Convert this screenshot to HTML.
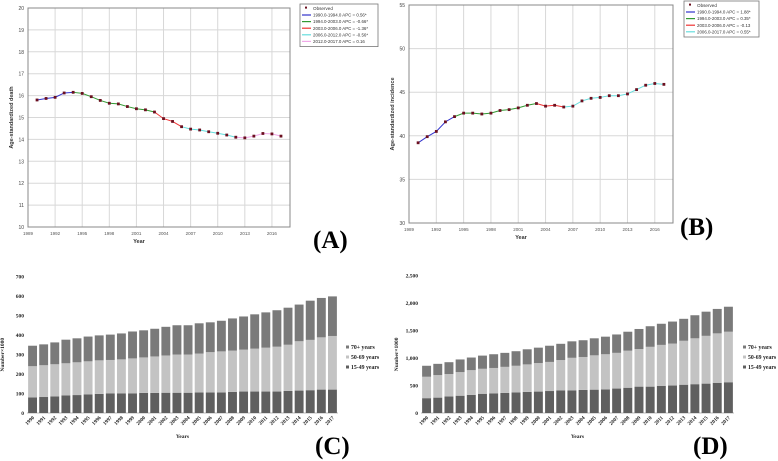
<!DOCTYPE html>
<html><head><meta charset="utf-8">
<style>
html,body{margin:0;padding:0;background:#fff;}
svg{display:block;font-family:"Liberation Sans",sans-serif;}
.serif{font-family:"Liberation Serif",serif;}
</style></head>
<body>
<svg id="fig" width="778" height="461" viewBox="0 0 778 461" xmlns="http://www.w3.org/2000/svg"></svg>
<script>
// ---- Panel A data ----
const yearsA = [1990,1991,1992,1993,1994,1995,1996,1997,1998,1999,2000,2001,2002,2003,2004,2005,2006,2007,2008,2009,2010,2011,2012,2013,2014,2015,2016,2017];
const deathA = [15.8,15.87,15.92,16.12,16.15,16.1,15.95,15.78,15.65,15.62,15.5,15.4,15.35,15.25,14.95,14.82,14.58,14.47,14.43,14.35,14.28,14.2,14.1,14.07,14.15,14.27,14.25,14.15];
const segA = [[1990,1994,'#3333cc'],[1994,2003,'#339933'],[2003,2006,'#ee3333'],[2006,2012,'#66dddd'],[2012,2017,'#f0a8e8']];
const legendA = ['1990.0-1994.0 APC = 0.56*','1994.0-2003.0 APC = -0.66*','2003.0-2006.0 APC = -1.36*','2006.0-2012.0 APC = -0.56*','2012.0-2017.0 APC = 0.16'];
const yTicksA = [10,11,12,13,14,15,16,17,18,19,20];
const xTicksLine = [1989,1992,1995,1998,2001,2004,2007,2010,2013,2016];
// ---- Panel B data ----
const incB = [39.2,39.9,40.5,41.6,42.2,42.6,42.6,42.5,42.6,42.9,43.0,43.2,43.5,43.7,43.4,43.5,43.3,43.4,44.0,44.3,44.4,44.6,44.6,44.8,45.3,45.8,46.0,45.9];
const segB = [[1990,1994,'#3333cc'],[1994,2003,'#339933'],[2003,2006,'#ee3333'],[2006,2017,'#66dddd']];
const legendB = ['1990.0-1994.0 APC = 1.88*','1994.0-2003.0 APC = 0.35*','2003.0-2006.0 APC = -0.13','2006.0-2017.0 APC = 0.55*'];
const yTicksB = [30,35,40,45,50,55];
// ---- Panel C data ----
const barYears = [1990,1991,1992,1993,1994,1995,1996,1997,1998,1999,2000,2001,2002,2003,2004,2005,2006,2007,2008,2009,2010,2011,2012,2013,2014,2015,2016,2017];
const c1549 = [80,82,85,90,92,95,98,100,100,100,103,103,104,104,104,105,105,105,108,110,110,110,110,113,115,117,120,120];
const c5069 = [160,163,165,165,168,170,172,172,175,180,182,187,191,196,196,200,207,211,212,215,220,225,230,237,253,258,268,275];
const c70 = [105,107,112,121,123,127,128,130,133,138,139,142,147,150,150,155,153,157,165,170,176,181,187,190,188,201,202,203];
const yTicksC = [0,100,200,300,400,500,600,700];
// ---- Panel D data ----
const d1549 = [270,280,300,315,330,350,355,365,375,385,390,400,410,410,420,425,430,445,460,480,480,495,500,515,525,535,550,560];
const d5069 = [390,410,410,430,450,455,465,475,485,500,520,530,555,595,600,625,640,650,675,685,725,745,765,800,835,870,900,920];
const d70 = [200,205,215,230,230,240,250,255,265,275,280,295,295,300,305,310,320,335,345,365,375,385,400,400,420,440,445,455];
const yTicksD = [0,500,1000,1500,2000,2500];
const ageLabels = ['70+ years','50-69 years','15-49 years'];

const NS='http://www.w3.org/2000/svg';
const svg=document.getElementById('fig');
function el(tag,attrs,parent,text){const e=document.createElementNS(NS,tag);for(const k in attrs)e.setAttribute(k,attrs[k]);if(text!==undefined)e.textContent=text;(parent||svg).appendChild(e);return e;}

function linePanel(p,name,years,vals,segs,legTexts,yTicks,yTitle){
  const g=el('g',{});
  
  
  const xs=v=>p.x0+(v-1989)/(2018-1989)*(p.x1-p.x0);
  const ys=v=>p.y1-(v-p.ymin)/(p.ymax-p.ymin)*(p.y1-p.y0);
  yTicks.forEach(t=>{
    const l=el('line',{x1:p.x0,x2:p.x1,y1:ys(t),y2:ys(t),stroke:'#d8d8d8','stroke-width':1},g);
    
    const tx=el('text',{x:p.x0-4,y:ys(t)+2,'font-size':5,'text-anchor':'end',fill:'#444'},g,String(t));
    
  });
  xTicksLine.forEach(t=>{
    if(t>1989){const l=el('line',{x1:xs(t),x2:xs(t),y1:p.y0,y2:p.y1,stroke:'#d8d8d8','stroke-width':1},g);
    }
    const tx=el('text',{x:xs(t),y:p.y1+8,'font-size':4.5,'text-anchor':'middle',fill:'#555'},g,String(t));
    
  });
  const fr=el('rect',{x:p.x0,y:p.y0,width:p.x1-p.x0,height:p.y1-p.y0,fill:'none',stroke:'#888','stroke-width':1},g);
  
  segs.forEach(s=>{
    const pts=[];years.forEach((y,i)=>{if(y>=s[0]&&y<=s[1])pts.push(xs(y)+','+ys(vals[i]));});
    const pl=el('polyline',{points:pts.join(' '),fill:'none',stroke:s[2],'stroke-width':1},g);
    
  });
  years.forEach((y,i)=>{
    const r=el('rect',{x:xs(y)-1.4,y:ys(vals[i])-1.4,width:2.8,height:2.8,fill:'#6b0f1f'},g);
    
  });
  const yt=el('text',{x:0,y:0,'font-size':5.5,'font-weight':'bold','text-anchor':'middle',fill:'#333',transform:`translate(${p.x0-15},${(p.y0+p.y1)/2}) rotate(-90)`},g,yTitle);
  
  const xt=el('text',{x:(p.x0+p.x1)/2-20,y:p.y1+16,'font-size':5.5,'font-weight':'bold','text-anchor':'middle',fill:'#333'},g,'Year');
  
  // legend
  const lg=el('g',{},g);
  
  const n=legTexts.length+1;
  el('rect',{x:p.lx,y:p.ly,width:p.lw,height:n*6.6+3,fill:'#fff',stroke:'#777','stroke-width':0.8},lg);
  el('rect',{x:p.lx+5,y:p.ly+2.6,width:2,height:2,fill:'#6b0f1f'},lg);
  el('text',{x:p.lx+13,y:p.ly+6,'font-size':4.6,fill:'#333'},lg,'Observed');
  legTexts.forEach((t,i)=>{
    const yy=p.ly+6+(i+1)*6.6;
    el('line',{x1:p.lx+2,x2:p.lx+11,y1:yy-1.6,y2:yy-1.6,stroke:segs[i][2],'stroke-width':1.2},lg);
    el('text',{x:p.lx+13,y:yy,'font-size':4.4,fill:'#333'},lg,t);
  });
}

function barPanel(p,name,c1,c2,c3,yTicks,fmt){
  const g=el('g',{});
  
  
  const step=(p.x1-p.x0)/barYears.length;
  const xs=i=>p.x0+step*(i+0.5);
  const ys=v=>p.y1-v/p.ymax*(p.y1-p.y0);
  yTicks.forEach(t=>{
    const tx=el('text',{x:p.x0-3,y:ys(t)+2,'font-size':5.5,'text-anchor':'end',fill:'#222','class':'serif','font-weight':'bold'},g,fmt(t));
    
  });
  const ax=el('line',{x1:p.x0,x2:p.x1,y1:p.y1,y2:p.y1,stroke:'#bbb','stroke-width':1},g);
  
  const bw=step*0.8;
  barYears.forEach((yr,i)=>{
    const a=c1[i],b=c2[i],c=c3[i];
    const r1=el('rect',{x:xs(i)-bw/2,y:ys(a),width:bw,height:ys(0)-ys(a),fill:'#5f5f5f'},g);
    
    const r2=el('rect',{x:xs(i)-bw/2,y:ys(a+b),width:bw,height:ys(a)-ys(a+b),fill:'#c3c3c3'},g);
    
    const r3=el('rect',{x:xs(i)-bw/2,y:ys(a+b+c),width:bw,height:ys(a+b)-ys(a+b+c),fill:'#7a7a7a'},g);
    
    const tx=el('text',{x:0,y:0,'font-size':5.2,'font-weight':'bold','text-anchor':'end',fill:'#222','class':'serif',transform:`translate(${xs(i)+2},${p.y1+5}) rotate(-45)`},g,String(yr));
    
  });
  const yt=el('text',{x:0,y:0,'font-size':5.5,'font-weight':'bold','text-anchor':'middle',fill:'#222','class':'serif',transform:`translate(${p.x0-23},${(p.y0+p.y1)/2+10}) rotate(-90)`},g,'Number×1000');
  
  const xt=el('text',{x:(p.x0+p.x1)/2,y:p.y1+25,'font-size':5.5,'font-weight':'bold','text-anchor':'middle',fill:'#222','class':'serif'},g,'Years');
  
  const cols=['#7a7a7a','#c3c3c3','#5f5f5f'];
  ageLabels.forEach((t,i)=>{
    const yy=p.ly+i*10;
    const lg=el('g',{},g);
    
    el('rect',{x:p.lx,y:yy-3.5,width:3,height:3,fill:cols[i]},lg);
    el('text',{x:p.lx+5,y:yy,'font-size':5.8,'font-weight':'bold',fill:'#222','class':'serif'},lg,t);
  });
}

linePanel({x0:28,x1:290,y0:8,y1:227,ymin:10,ymax:20,lx:300,ly:4,lw:78},'panel-a-death',yearsA,deathA,segA,legendA,yTicksA,'Age-standardized death');
linePanel({x0:409,x1:673,y0:5,y1:223,ymin:30,ymax:55,lx:684,ly:1,lw:75},'panel-b-incidence',yearsA,incB,segB,legendB,yTicksB,'Age-standardized incidence');
barPanel({x0:27,x1:338,y0:276.5,y1:413,ymax:700,lx:346,ly:349},'panel-c-bars',c1549,c5069,c70,yTicksC,t=>String(t));
barPanel({x0:421,x1:734,y0:275.7,y1:413,ymax:2500,lx:743,ly:349},'panel-d-bars',d1549,d5069,d70,yTicksD,t=>t.toLocaleString('en-US'));

[['(A)',313,248],['(B)',680,235],['(C)',315,454],['(D)',693,454]].forEach(l=>{
  const t=el('text',{x:l[1],y:l[2],'font-size':25,'font-weight':'bold',fill:'#000','class':'serif'},svg,l[0]);
  
  
});
</script>
</body></html>
